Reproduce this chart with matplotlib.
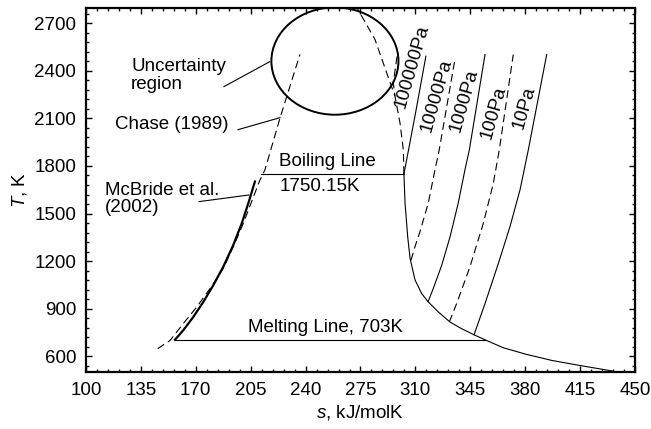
import numpy as np
import matplotlib.pyplot as plt
from matplotlib.patches import Ellipse
from matplotlib.ticker import FixedLocator

plt.rcParams['font.family'] = ['Liberation Sans', 'DejaVu Sans']
plt.rcParams['mathtext.fontset'] = 'custom'
plt.rcParams['mathtext.rm'] = 'Liberation Sans'
plt.rcParams['mathtext.it'] = 'Liberation Sans:italic'

# liquid branch (McBride et al. 2002)
liq_s = [156.7, 162.0, 168.4, 174.8, 181.2, 187.5, 193.9, 199.3, 203.5, 207.7]
liq_T = [703, 763, 847, 942, 1048, 1164, 1301, 1438, 1565, 1702]

# Chase (1989) liquid branch
chase_s = [145.7, 153.6, 162.0, 170.6, 179.1, 187.5, 193.9, 200.3, 205.6, 210.9,
           214.1, 223.7, 236.4]
chase_T = [647, 699, 805, 910, 1027, 1153, 1290, 1438, 1575, 1712,
           1776, 2103, 2504]

# vapour branch below boiling point
vap_s = [302.7, 303.4, 305.1, 306.6, 309.8, 314.0, 318.2, 324.6, 332.1, 339.5,
         346.9, 354.4, 366.0, 380.9, 396.9, 414.9, 436.2]
vap_T = [1750, 1565, 1353, 1217, 1080, 995, 942, 879, 815, 773,
         737, 703, 653, 611, 573, 541, 505]

# vapour branch above boiling point (dashed)
vap_hi_s = [302.7, 302.3, 300.2, 297.0, 291.7, 284.2, 272.6]
vap_hi_T = [1750, 1902, 2071, 2240, 2388, 2599, 2801]
vap_hi2_s = [298.3, 295.9, 297.0]
vap_hi2_T = [2491, 2325, 2240]

# isobars
p100000_s = [302.7, 309.7, 316.7]
p100000_T = [1750, 2113, 2493]
p10000_s = [307.2, 309.7, 312.9, 318.2, 322.5, 325.2, 335.2]
p10000_T = [1205, 1290, 1385, 1565, 1776, 1902, 2472]
p1000_s = [318.2, 321.4, 326.8, 332.1, 337.3, 341.6, 344.4, 354.4]
p1000_T = [946, 1027, 1174, 1353, 1565, 1776, 1902, 2503]
p100_s = [331.6, 336.3, 344.8, 353.3, 359.7, 363.5, 372.4]
p100_T = [815, 932, 1164, 1438, 1691, 1902, 2503]
p10_s = [347.4, 354.4, 362.9, 370.3, 376.7, 382.0, 393.7]
p10_T = [735, 932, 1185, 1417, 1649, 1902, 2503]

T_boil = 1750.15
T_melt = 703

x_ticks = np.arange(100, 451, 35)
y_ticks = np.arange(600, 2701, 300)

fig = plt.figure(figsize=(6.51, 4.29), dpi=100)
ax = fig.add_axes([0.1321, 0.1329, 0.8433, 0.8496])

thin = 0.8
dash = (0, (7, 4))

ax.plot(liq_s, liq_T, color='black', lw=1.6)
ax.plot(chase_s, chase_T, color='black', lw=thin, linestyle=dash)
ax.plot(vap_s, vap_T, color='black', lw=thin)
ax.plot(vap_hi_s, vap_hi_T, color='black', lw=thin, linestyle=dash)
ax.plot(vap_hi2_s, vap_hi2_T, color='black', lw=thin, linestyle=dash)

ax.plot(p100000_s, p100000_T, color='black', lw=thin)
ax.plot(p10000_s, p10000_T, color='black', lw=thin, linestyle=dash)
ax.plot(p1000_s, p1000_T, color='black', lw=thin)
ax.plot(p100_s, p100_T, color='black', lw=thin, linestyle=dash)
ax.plot(p10_s, p10_T, color='black', lw=thin)

# boiling and melting lines
ax.plot([211.5, 302.7], [T_boil, T_boil], color='black', lw=thin)
ax.plot([156.7, 354.4], [T_melt, T_melt], color='black', lw=thin)

ax.add_patch(Ellipse((258.7, 2462), 81.0, 677, fill=False, lw=1.4, color='black'))

fs = 13.5
ax.text(128.7, 2371, 'Uncertainty\nregion', fontsize=fs, ha='left', va='center', linespacing=1.05)
ax.plot([188.0, 217.3], [2301, 2459], color='black', lw=thin)
ax.text(118.5, 2061, 'Chase (1989)', fontsize=fs, ha='left', va='center')
ax.plot([196.9, 223.7], [2029, 2105], color='black', lw=thin)
ax.text(112.1, 1592, 'McBride et al.\n(2002)', fontsize=fs, ha='left', va='center', linespacing=1.05)
ax.plot([172.0, 203.9], [1575, 1617], color='black', lw=thin)

ax.text(253.6, 1826, 'Boiling Line', fontsize=fs, ha='center', va='center')
ax.text(249.2, 1668, f'{T_boil:.2f}K', fontsize=fs, ha='center', va='center')
ax.text(252.4, 782, f'Melting Line, {T_melt}K', fontsize=fs, ha='center', va='center')

for lab, s, T in [('100000Pa', 307.8, 2425), ('10000Pa', 323.5, 2244),
                  ('1000Pa', 341.0, 2212), ('100Pa', 359.8, 2137), ('10Pa', 379.5, 2168)]:
    ax.text(s, T, lab, fontsize=fs, rotation=74, ha='center', va='center',
            rotation_mode='anchor')

ax.set_xlim(100, 450)
ax.set_ylim(500, 2800)
ax.xaxis.set_major_locator(FixedLocator(x_ticks))
ax.xaxis.set_minor_locator(FixedLocator(np.arange(100, 451, 7)))
ax.yaxis.set_major_locator(FixedLocator(y_ticks))
ax.yaxis.set_minor_locator(FixedLocator(np.arange(540, 2800, 60)))
ax.tick_params(which='both', direction='in', top=True, right=True, labelsize=fs, width=1.0)
ax.tick_params(which='major', length=4.5, pad=7)
ax.tick_params(which='minor', length=2.5)
for sp in ax.spines.values():
    sp.set_linewidth(1.6)

ax.set_xlabel('$s$, kJ/molK', fontsize=fs, labelpad=3)
ax.set_ylabel('$T$, K', fontsize=fs, labelpad=4)

fig.savefig('out.png', dpi=100)
